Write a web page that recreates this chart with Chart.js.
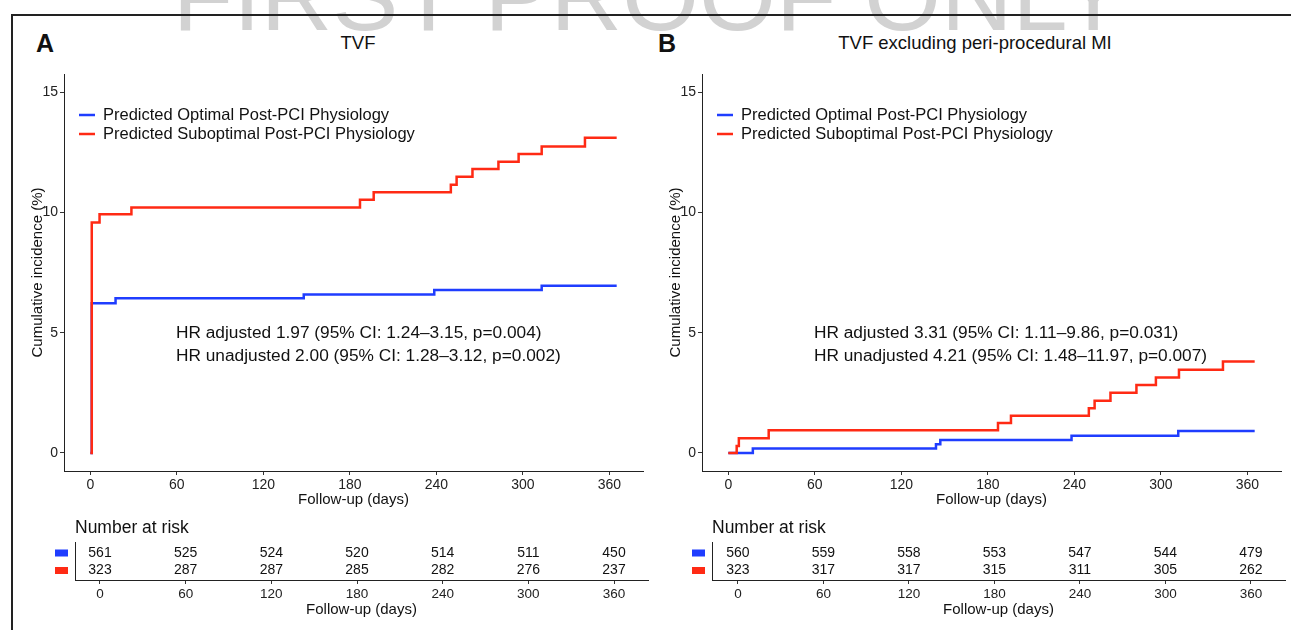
<!DOCTYPE html>
<html>
<head>
<meta charset="utf-8">
<script src="https://cdn.jsdelivr.net/npm/chart.js@4.4.1/dist/chart.umd.min.js"></script>
<style>
  html, body { margin: 0; padding: 0; background: #fff; }
  #page { position: relative; width: 1291px; height: 630px; overflow: hidden; background: #fff;
          font-family: "Liberation Sans", Arial, sans-serif; color: #111; }
  .abs { position: absolute; white-space: nowrap; }
  #watermark { left: 4px; top: -54px; width: 1291px; text-align: center; font-size: 99px; line-height: 99px; color: #d2d2d2; }
  #frameTop { left: 11px; top: 14px; width: 1280px; height: 2px; background: #222; }
  #frameLeft { left: 11px; top: 14px; width: 2px; height: 616px; background: #222; }
  .letter { font-weight: bold; font-size: 25px; line-height: 25px; top: 31px; }
  .title { font-size: 18.5px; line-height: 18.5px; top: 34px; width: 500px; text-align: center; }
  canvas { position: absolute; }
</style>
</head>
<body>
<div id="page">
  <div class="abs" id="watermark">FIRST PROOF ONLY</div>
  <div class="abs" id="frameTop"></div>
  <div class="abs" id="frameLeft"></div>
  <div class="abs letter" style="left:36px">A</div>
  <div class="abs title" style="left:108px">TVF</div>
  <div class="abs letter" style="left:658px">B</div>
  <div class="abs title" style="left:725px">TVF excluding peri-procedural MI</div>
  <canvas id="plotA" width="650" height="520" style="left:0;top:0"></canvas>
  <canvas id="plotB" width="650" height="520" style="left:638px;top:0"></canvas>
  <canvas id="riskA" width="650" height="120" style="left:0;top:510px"></canvas>
  <canvas id="riskB" width="650" height="120" style="left:637px;top:510px"></canvas>
</div>
<script>
// axis ticks
var xTicks = [0, 60, 120, 180, 240, 300, 360];
var yTicks = [0, 5, 10, 15];
var seriesNames = ['Predicted Optimal Post-PCI Physiology', 'Predicted Suboptimal Post-PCI Physiology'];

// panel A: TVF, follow-up day and cumulative incidence (%)
var tvfOptimalDays = [0, 1, 17.5, 148, 238.5, 313, 365];
var tvfOptimalInc = [0, 6.22, 6.43, 6.59, 6.77, 6.95, 6.95];
var tvfSuboptDays = [0, 1, 6.4, 28.5, 187, 196.5, 250, 254, 265, 283, 297, 313, 343, 365];
var tvfSuboptInc = [0, 9.58, 9.92, 10.2, 10.52, 10.84, 11.15, 11.48, 11.8, 12.1, 12.42, 12.74, 13.1, 13.1];

// panel B: TVF excluding peri-procedural MI
var exclOptimalDays = [0, 17, 144, 147, 238, 312, 365];
var exclOptimalInc = [0, 0.19, 0.36, 0.54, 0.72, 0.91, 0.91];
var exclSuboptDays = [0, 5.8, 7.3, 28, 187, 196, 250, 254, 265, 283, 296.5, 312.5, 343, 365];
var exclSuboptInc = [0, 0.29, 0.61, 0.94, 1.24, 1.55, 1.86, 2.17, 2.5, 2.82, 3.14, 3.46, 3.8, 3.8];

// number at risk
var riskTimes = [0, 60, 120, 180, 240, 300, 360];
var riskTvfOptimal = [561, 525, 524, 520, 514, 511, 450];
var riskTvfSubopt = [323, 287, 287, 285, 282, 276, 237];
var riskExclOptimal = [560, 559, 558, 553, 547, 544, 479];
var riskExclSubopt = [323, 317, 317, 315, 311, 305, 262];

var hrTvf = ['HR adjusted 1.97 (95% CI: 1.24\u20133.15, p=0.004)', 'HR unadjusted 2.00 (95% CI: 1.28\u20133.12, p=0.002)'];
var hrExcl = ['HR adjusted 3.31 (95% CI: 1.11\u20139.86, p=0.031)', 'HR unadjusted 4.21 (95% CI: 1.48\u201311.97, p=0.007)'];

var BLUE = '#1f3dff';
var RED = '#ff2a14';
var FONT = '"Liberation Sans", Arial, sans-serif';
Chart.defaults.font.family = FONT;
Chart.defaults.color = '#222';

function pts(xs, ys) {
    return xs.map(function (x, i) { return { x: x, y: ys[i] }; });
}

// legend and HR text inside the plot panel
var plotNotes = {
    id: 'plotNotes',
    afterDraw: function (chart, args, opts) {
        var ctx = chart.ctx, a = chart.chartArea;
        ctx.save();
        ctx.textBaseline = 'middle';
        ctx.textAlign = 'left';
        ctx.font = '16.5px ' + FONT;
        [BLUE, RED].forEach(function (c, i) {
            var y = a.top + 41 + i * 19;
            ctx.strokeStyle = c;
            ctx.lineWidth = 2.5;
            ctx.beginPath();
            ctx.moveTo(a.left + 15, y);
            ctx.lineTo(a.left + 31, y);
            ctx.stroke();
            ctx.fillStyle = '#111';
            ctx.fillText(seriesNames[i], a.left + 39, y);
        });
        ctx.font = '17.3px ' + FONT;
        opts.hr.forEach(function (t, i) {
            ctx.fillText(t, a.left + 112, a.top + 259 + i * 23);
        });
        ctx.restore();
    }
};

function makePlot(id, optDays, optInc, subDays, subInc, hr) {
    return new Chart(document.getElementById(id), {
        type: 'line',
        data: {
            datasets: [
                { label: seriesNames[0], data: pts(optDays, optInc), borderColor: BLUE, stepped: true, order: 1 },
                { label: seriesNames[1], data: pts(subDays, subInc), borderColor: RED, stepped: true, order: 0 }
            ]
        },
        options: {
            responsive: false,
            animation: false,
            layout: { padding: { left: 24, top: 74, right: 7, bottom: 9 } },
            elements: { point: { radius: 0 }, line: { borderWidth: 2.5, tension: 0, fill: false } },
            plugins: { legend: { display: false }, tooltip: { enabled: false }, plotNotes: { hr: hr } },
            scales: {
                x: {
                    type: 'linear', min: -18.25, max: 383.25,
                    afterBuildTicks: function (s) { s.ticks = xTicks.map(function (v) { return { value: v }; }); },
                    afterFit: function (s) { s.height = 40; },
                    ticks: { font: { size: 14 }, color: '#222', padding: 2, maxRotation: 0 },
                    grid: { drawOnChartArea: false, tickLength: 4, color: '#333' },
                    border: { color: '#222', width: 1 },
                    title: { display: true, text: 'Follow-up (days)', font: { size: 15 }, color: '#111', padding: { top: 0, bottom: 2 } }
                },
                y: {
                    type: 'linear', min: -0.75, max: 15.75,
                    afterBuildTicks: function (s) { s.ticks = yTicks.map(function (v) { return { value: v }; }); },
                    afterFit: function (s) { s.width = 40; },
                    ticks: { font: { size: 14 }, color: '#222', padding: 2 },
                    grid: { drawOnChartArea: false, tickLength: 4, color: '#333' },
                    border: { color: '#222', width: 1 },
                    title: { display: true, text: 'Cumulative incidence (%)', font: { size: 15 }, color: '#111', padding: { top: 5, bottom: 0 } }
                }
            }
        },
        plugins: [plotNotes]
    });
}

// number-at-risk rows placed on the table's own x scale
var riskRows = {
    id: 'riskRows',
    afterDraw: function (chart, args, opts) {
        var ctx = chart.ctx, a = chart.chartArea, x = chart.scales.x;
        ctx.save();
        ctx.textBaseline = 'middle';
        ctx.textAlign = 'left';
        ctx.fillStyle = '#111';
        ctx.font = '17.5px ' + FONT;
        ctx.fillText('Number at risk', a.left, a.top - 14);
        ctx.font = '14px ' + FONT;
        ctx.textAlign = 'center';
        [opts.optimal, opts.subopt].forEach(function (row, r) {
            var y = a.top + 11 + r * 17.5;
            ctx.fillStyle = r === 0 ? BLUE : RED;
            ctx.fillRect(a.left - 20, y - 3.5, 13, 7);
            ctx.fillStyle = '#111';
            row.forEach(function (n, i) {
                ctx.fillText(String(n), x.getPixelForValue(riskTimes[i]), y);
            });
        });
        ctx.restore();
    }
};

function makeRisk(id, xmin, xmax, optimal, subopt) {
    return new Chart(document.getElementById(id), {
        type: 'scatter',
        data: { datasets: [{ data: [] }] },
        options: {
            responsive: false,
            animation: false,
            layout: { padding: { left: 75, top: 32, right: 2, bottom: 8 } },
            plugins: { legend: { display: false }, tooltip: { enabled: false }, riskRows: { optimal: optimal, subopt: subopt } },
            scales: {
                x: {
                    type: 'linear', min: xmin, max: xmax,
                    afterBuildTicks: function (s) { s.ticks = xTicks.map(function (v) { return { value: v }; }); },
                    afterFit: function (s) { s.height = 42; },
                    ticks: { font: { size: 13.5 }, color: '#222', padding: 2, maxRotation: 0 },
                    grid: { drawOnChartArea: false, tickLength: 4, color: '#333' },
                    border: { color: '#222', width: 1 },
                    title: { display: true, text: 'Follow-up (days)', font: { size: 15 }, color: '#111', padding: { top: 0, bottom: 3 } }
                },
                y: {
                    type: 'linear', min: 0, max: 2,
                    afterBuildTicks: function (s) { s.ticks = []; },
                    afterFit: function (s) { s.width = 0; },
                    ticks: { display: false },
                    grid: { display: false },
                    border: { color: '#222', width: 1 }
                }
            }
        },
        plugins: [riskRows]
    });
}

makePlot('plotA', tvfOptimalDays, tvfOptimalInc, tvfSuboptDays, tvfSuboptInc, hrTvf);
makePlot('plotB', exclOptimalDays, exclOptimalInc, exclSuboptDays, exclSuboptInc, hrExcl);
makeRisk('riskA', -17.5, 383.8, riskTvfOptimal, riskTvfSubopt);
makeRisk('riskB', -18.2, 383.9, riskExclOptimal, riskExclSubopt);
</script>
</body>
</html>
